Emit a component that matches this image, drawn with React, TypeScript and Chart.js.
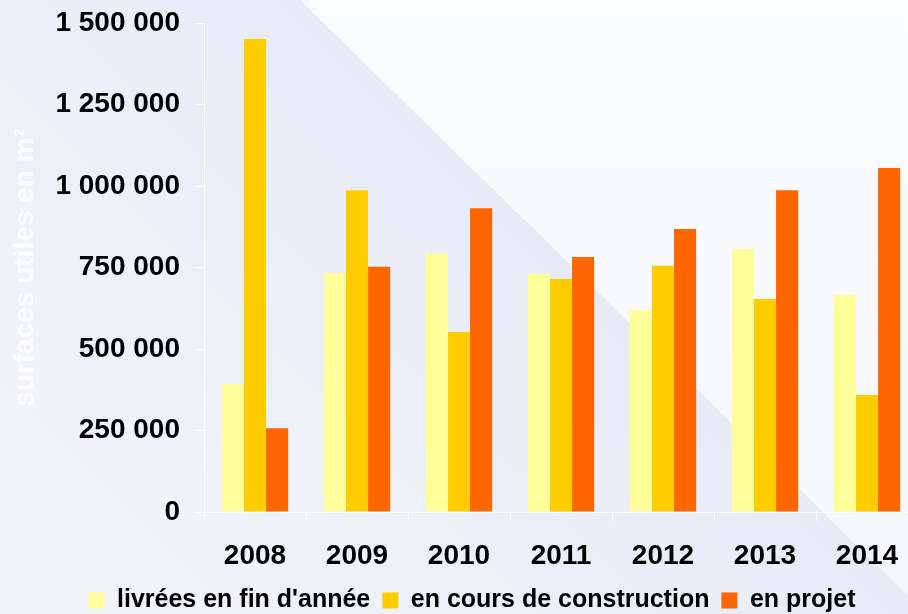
import React, { useEffect, useRef } from "react";
import { Chart, registerables } from "chart.js";

Chart.register(...registerables);

const years = ["2008", "2009", "2010", "2011", "2012", "2013", "2014"];
const livrees = [393000, 733000, 794000, 731000, 620000, 807000, 666000];
const enCours = [1451000, 987000, 552000, 715000, 755000, 653000, 359000];
const enProjet = [257000, 752000, 932000, 782000, 868000, 987000, 1055000];
const seriesLabels = ["livrées en fin d'année", "en cours de construction", "en projet"];
const seriesColors = ["#FFFF99", "#FFCC00", "#FF6600"];
const yMin = 0;
const yMax = 1500000;
const yStep = 250000;
const yTitle = "surfaces utiles en m²";

const FONT = "'Liberation Sans', Arial, Helvetica, sans-serif";
const W = 920;
const H = 623;

const bgPlugin = {
  id: "bgPlugin",
  beforeDraw(chart: any) {
    const ctx = chart.ctx;
    const w = chart.width;
    const h = chart.height;
    ctx.save();
    const g = ctx.createLinearGradient(300, 0, -350, 650);
    g.addColorStop(0, "#e8ebf6");
    g.addColorStop(0.3, "#eef0f8");
    g.addColorStop(1, "#f8f9fc");
    ctx.fillStyle = g;
    ctx.fillRect(0, 0, w, h);
    const g2 = ctx.createLinearGradient(0, 0, 0, h);
    g2.addColorStop(0, "#fbfcfe");
    g2.addColorStop(1, "#f4f6fb");
    ctx.fillStyle = g2;
    ctx.beginPath();
    ctx.moveTo(300, 0);
    ctx.lineTo(w, 0);
    ctx.lineTo(w, (w - 300) * 0.98);
    ctx.closePath();
    ctx.fill();
    ctx.restore();
  },
};

function fmt(v: number): string {
  return String(Math.round(v)).replace(/\B(?=(\d{3})+(?!\d))/g, " ");
}

export default function App() {
  const ref = useRef<HTMLCanvasElement | null>(null);
  useEffect(() => {
    if (!ref.current) return;
    const chart = new Chart(ref.current, {
      type: "bar",
      data: {
        labels: years,
        datasets: [livrees, enCours, enProjet].map((d, i) => ({
          label: seriesLabels[i],
          data: d,
          backgroundColor: seriesColors[i],
          borderWidth: 0,
          categoryPercentage: 0.65,
          barPercentage: 1,
        })),
      },
      options: {
        responsive: false,
        animation: false,
        devicePixelRatio: 1,
        layout: { padding: { left: 26, right: W - 918, top: 23, bottom: 0 } },
        plugins: {
          tooltip: { enabled: false },
          legend: {
            position: "bottom",
            labels: {
              boxWidth: 16,
              boxHeight: 16,
              padding: 12,
              color: "#000",
              font: { family: FONT, size: 25, weight: "bold" },
            },
          },
        },
        scales: {
          x: {
            grid: {
              drawOnChartArea: false,
              color: "#ffffff",
              tickLength: 9,
              offset: true,
            },
            border: { color: "#ffffff", width: 1 },
            ticks: {
              color: "#000",
              padding: 18,
              font: { family: FONT, size: 28, weight: "bold" },
            },
            afterFit: (s: any) => {
              s.height = 64;
              s.paddingLeft = 0;
              s.paddingRight = 0;
            },
          },
          y: {
            min: yMin,
            max: yMax,
            grid: { drawOnChartArea: false, color: "#ffffff", tickLength: 9 },
            border: { color: "#ffffff", width: 1 },
            ticks: {
              stepSize: yStep,
              color: "#000",
              padding: 15,
              font: { family: FONT, size: 28, weight: "bold" },
              callback: (v: any) => fmt(Number(v)),
            },
            title: {
              display: true,
              text: yTitle,
              color: "rgba(255,255,255,0.9)",
              font: { family: FONT, size: 28, weight: "bold" },
              padding: { top: -18, bottom: 0 },
            },
            afterFit: (s: any) => {
              s.width = 178;
              s.paddingTop = 0;
              s.paddingBottom = 0;
            },
          },
        },
      },
      plugins: [bgPlugin],
    } as any);
    return () => chart.destroy();
  }, []);
  return (
    <div
      style={{
        position: "fixed",
        left: 0,
        top: 0,
        width: 908,
        height: 614,
        overflow: "hidden",
      }}
    >
      <canvas ref={ref} width={W} height={H} style={{ width: W, height: H, display: "block" }} />
    </div>
  );
}
